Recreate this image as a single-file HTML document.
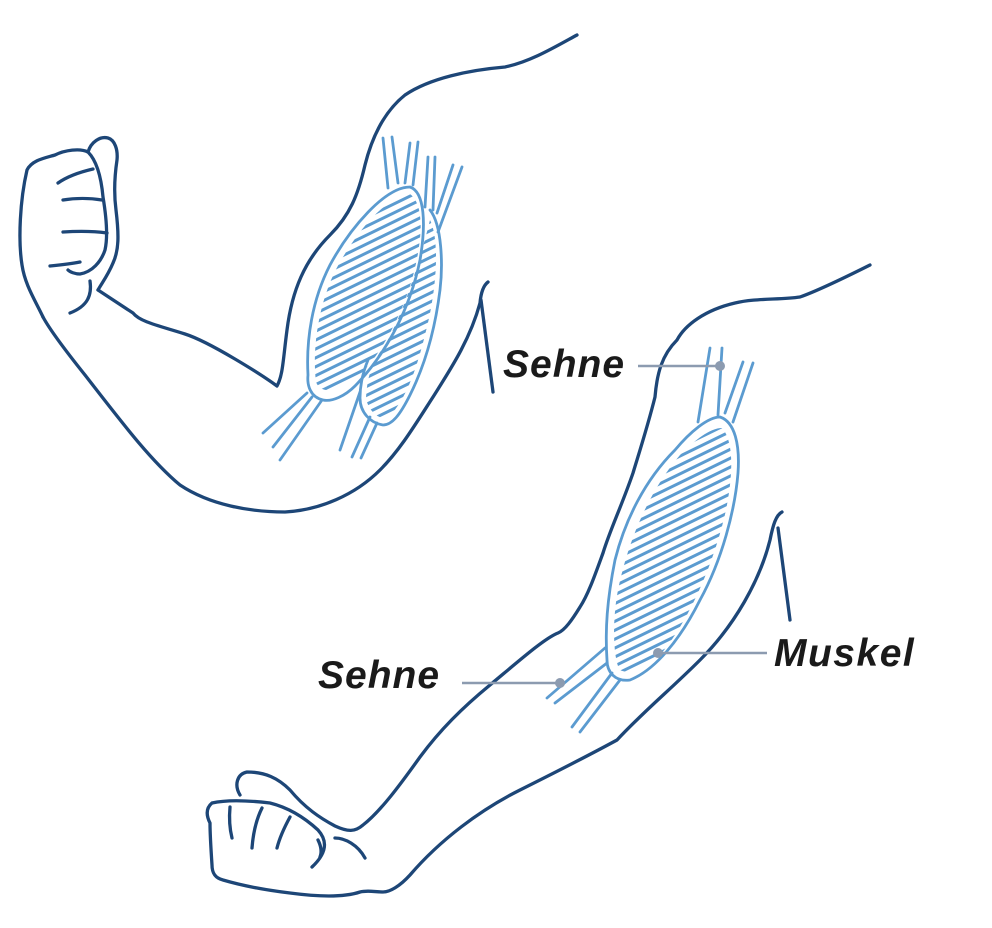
<!DOCTYPE html>
<html><head><meta charset="utf-8"><style>
html,body{margin:0;padding:0;background:#fff;width:992px;height:928px;overflow:hidden}
svg{display:block}
.o{fill:none;stroke:#1d4677;stroke-width:3.3;stroke-linecap:round;stroke-linejoin:round}
.m{fill:none;stroke:#5b9bd0;stroke-width:2.8;stroke-linecap:round;stroke-linejoin:round}
.c{stroke:#8c9bb0;stroke-width:2.5}
text{font-family:"Liberation Sans",sans-serif;font-weight:bold;font-style:italic;font-size:39px;fill:#1a1a1a;letter-spacing:1px}
</style></head><body>
<svg width="992" height="928" viewBox="0 0 992 928" xmlns="http://www.w3.org/2000/svg">
<defs>
<pattern id="hp" patternUnits="userSpaceOnUse" width="40" height="8" patternTransform="rotate(-26)">
<line x1="-5" y1="4" x2="45" y2="4" stroke="#5b9bd0" stroke-width="3"/>
</pattern>
<clipPath id="c1"><path d="M410,194 C425,205 422,240 414,272 C402,320 372,370 350,382 C335,393 320,393 316,382 C312,350 318,300 340,262 C360,228 385,198 410,194Z"/></clipPath>
<clipPath id="c2"><path d="M430,220 C440,240 437,290 425,335 C415,375 405,400 388,418 C378,420 368,410 366,398 C367,380 370,365 385,345 C405,310 420,260 430,220Z"/></clipPath>
<clipPath id="c3"><path d="M722,428 C733,440 734,470 726,510 C715,560 690,620 660,655 C645,670 630,675 620,670 C613,660 612,620 618,590 C628,540 650,490 680,455 C695,440 710,428 722,428Z"/></clipPath>
</defs>

<path class="o" d="M577,35 C555,47 530,62 505,67 C470,70 430,78 405,95 C380,115 370,145 365,165 C358,195 350,215 330,235 C305,260 292,290 287,330 C283,360 283,375 277,386 C262,375 210,342 185,334 C160,326 140,322 133,313 L98,290"/>
<path class="o" d="M488,282 C484,285 481,292 480,303 C470,340 450,370 433,397 C415,425 400,450 380,470 C355,495 320,510 285,512 C250,512 210,505 180,485 C150,460 120,420 85,375 C65,350 50,330 43,317"/>
<path class="o" d="M481,300 L493,392"/>
<path class="o" d="M43,317 C35,300 25,285 22,265 C18,240 20,200 27,170 C32,160 45,158 55,155 C65,150 80,148 88,152"/>
<path class="o" d="M88,152 C91,142 100,136 108,138 C115,140 118,150 117,160 C114,180 114,195 116,210 C119,235 119,250 113,263 C108,275 102,283 98,290"/>
<path class="o" d="M88,152 C96,160 101,175 103,197 C106,215 108,237 105,250 C101,262 92,272 80,274 C75,274 70,272 68,270"/>
<path class="o" d="M58,183 C68,176 80,172 93,169"/>
<path class="o" d="M63,200 C75,198 90,198 102,200"/>
<path class="o" d="M63,232 C78,231 93,231 107,233"/>
<path class="o" d="M50,266 C60,265 70,264 80,262"/>
<path class="o" d="M90,281 C92,295 88,306 70,313"/>

<path class="m" d="M383,138 L388,188 M392,137 L398,183 M410,143 L405,183 M418,142 L413,185"/>
<path class="m" d="M428,157 L425,207 M435,157 L433,210 M453,165 L437,213 M462,167 L438,232"/>
<rect x="300" y="180" width="150" height="260" fill="url(#hp)" clip-path="url(#c2)"/>
<path class="m" fill="#fff" d="M430,210 C442,225 443,265 440,290 C435,330 425,365 410,395 C400,415 392,425 383,425 C370,423 360,412 360,398 C360,385 363,372 368,360"/>
<path class="m" d="M307,393 L263,433 M312,397 L273,447 M322,400 L280,460"/>
<path class="m" d="M360,392 L340,450 M370,417 L352,457 M377,423 L361,458"/>
<path class="m" fill="#fff" d="M410,187 C425,192 426,225 420,260 C410,310 385,355 355,386 C345,396 332,402 323,400 C310,397 307,385 308,375 C306,340 312,300 330,265 C350,228 385,187 410,187Z"/>
<rect x="290" y="170" width="150" height="240" fill="url(#hp)" clip-path="url(#c1)"/>

<path class="o" d="M870,265 C850,275 820,290 800,297 C780,300 755,298 735,303 C705,310 685,325 677,340 C662,355 657,373 655,397 C648,425 640,450 633,473 C622,505 610,530 603,553 C595,575 588,595 580,607 C572,620 565,630 558,633 C545,638 520,660 490,685 C462,708 440,730 420,757 C400,785 380,812 363,825 C355,832 348,832 335,826 C320,818 305,808 290,790 C278,778 265,772 247,772 C237,774 234,785 240,795"/>
<path class="o" d="M782,512 C776,515 773,525 770,540 C760,580 735,625 700,660 C670,690 645,710 617,740 C595,752 560,770 520,790 C480,810 440,840 410,875 C400,886 390,892 383,892 C375,892 368,890 360,892 C345,897 320,897 290,893 C265,890 240,885 223,880 C215,878 212,873 212,865 C211,850 210,835 210,823 C206,815 206,808 212,803 C225,800 245,800 270,803 C290,808 305,818 318,830 C327,840 328,852 312,867"/>
<path class="o" d="M778,528 L790,620"/>
<path class="o" d="M230,807 C229,818 230,830 232,838"/>
<path class="o" d="M262,808 C256,820 253,835 252,848"/>
<path class="o" d="M290,817 C284,828 279,840 277,848"/>
<path class="o" d="M318,840 C321,846 322,852 320,857"/>
<path class="o" d="M335,838 C345,838 358,845 365,858"/>

<path class="m" d="M710,348 L698,422 M722,348 L718,415 M743,362 L725,413 M753,363 L733,422"/>
<path class="m" d="M605,648 L547,698 M607,663 L555,703 M612,673 L572,727 M620,680 L580,732"/>
<path class="m" fill="#fff" d="M720,417 C735,422 740,445 738,473 C735,510 722,560 700,600 C680,640 655,670 630,680 C615,682 607,672 607,660 C605,630 607,600 615,560 C625,520 645,480 675,450 C690,432 708,417 720,417Z"/>
<rect x="590" y="410" width="160" height="280" fill="url(#hp)" clip-path="url(#c3)"/>

<line class="c" x1="638" y1="366" x2="720" y2="366"/><circle cx="720" cy="366" r="5" fill="#8c9bb0"/>
<line class="c" x1="462" y1="683" x2="560" y2="683"/><circle cx="560" cy="683" r="5" fill="#8c9bb0"/>
<line class="c" x1="658" y1="653" x2="767" y2="653"/><circle cx="658" cy="653" r="5" fill="#8c9bb0"/>

<text x="503" y="377">Sehne</text>
<text x="318" y="688">Sehne</text>
<text x="774" y="666" style="letter-spacing:1.5px">Muskel</text>
</svg>
</body></html>
